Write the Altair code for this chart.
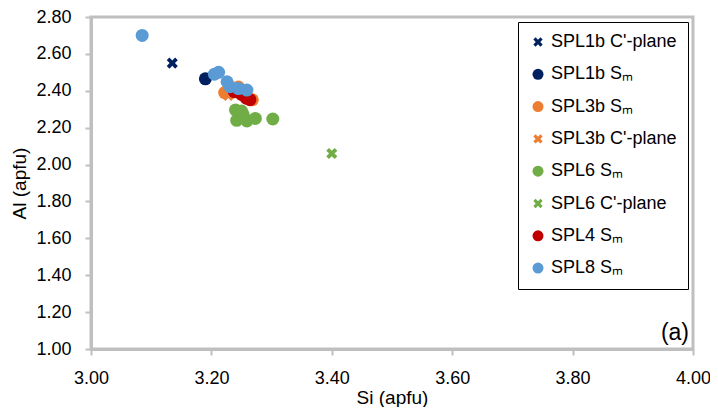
import altair as alt
import pandas as pd

series_names = ["SPL1b C'-plane", "SPL1b S\u2098", "SPL3b S\u2098", "SPL3b C'-plane",
                "SPL6 S\u2098", "SPL6 C'-plane", "SPL4 S\u2098", "SPL8 S\u2098"]
series_colors = ["#002060", "#002060", "#ED7D31", "#ED7D31",
                 "#70AD47", "#70AD47", "#C00000", "#5B9BD5"]

X_PATH = ("M-0.44,-0.85L0,-0.41L0.44,-0.85L0.85,-0.44L0.41,0L0.85,0.44"
          "L0.44,0.85L0,0.41L-0.44,0.85L-0.85,0.44L-0.41,0L-0.85,-0.44Z")
series_shapes = [X_PATH, "circle", "circle", X_PATH, "circle", X_PATH, "circle", "circle"]

# values per series (Si, Al in apfu)
spl1b_c_si = [3.135]
spl1b_c_al = [2.55]
spl1b_sm_si = [3.19]
spl1b_sm_al = [2.465]
spl3b_sm_si = [3.222, 3.245, 3.268, 3.258]
spl3b_sm_al = [2.39, 2.42, 2.351, 2.37]
spl3b_c_si = [3.228]
spl3b_c_al = [2.375]
spl6_sm_si = [3.24, 3.253, 3.242, 3.259, 3.273, 3.302, 3.25]
spl6_sm_al = [2.296, 2.27, 2.24, 2.236, 2.25, 2.247, 2.29]
spl6_c_si = [3.40]
spl6_c_al = [2.06]
spl4_sm_si = [3.238, 3.25, 3.258, 3.264]
spl4_sm_al = [2.395, 2.38, 2.36, 2.352]
spl8_sm_si = [3.085, 3.205, 3.212, 3.226, 3.231, 3.245, 3.259]
spl8_sm_al = [2.70, 2.49, 2.50, 2.449, 2.422, 2.412, 2.404]

series_si = [spl1b_c_si, spl1b_sm_si, spl3b_sm_si, spl3b_c_si,
             spl6_sm_si, spl6_c_si, spl4_sm_si, spl8_sm_si]
series_al = [spl1b_c_al, spl1b_sm_al, spl3b_sm_al, spl3b_c_al,
             spl6_sm_al, spl6_c_al, spl4_sm_al, spl8_sm_al]

x_ticks = [3.0, 3.2, 3.4, 3.6, 3.8, 4.0]
y_ticks = [1.0, 1.2, 1.4, 1.6, 1.8, 2.0, 2.2, 2.4, 2.6, 2.8]

rows = []
for name, xs, ys in zip(series_names, series_si, series_al):
    for xv, yv in zip(xs, ys):
        rows.append({"series": name, "si": xv, "al": yv})
df = pd.DataFrame(rows)

W, H = 602, 332
FONT = "Liberation Sans"

legend = alt.Legend(
    title=None, orient="none", legendX=427, legendY=5,
    strokeColor="black", padding=11, rowPadding=14.3,
    labelFontSize=18, labelFont=FONT, labelColor="black",
    symbolSize=121, symbolStrokeWidth=0, labelOffset=4,
)

points = alt.Chart(df).mark_point(filled=True, opacity=1, size=169).encode(
    x=alt.X("si:Q", title="Si (apfu)",
            scale=alt.Scale(domain=[3.0, 4.0], nice=False, zero=False),
            axis=alt.Axis(values=x_ticks, format=".2f", tickSize=6, labelPadding=14,
                          titlePadding=1, grid=False, labelFlush=False)),
    y=alt.Y("al:Q", title="Al (apfu)",
            scale=alt.Scale(domain=[1.0, 2.8], nice=False, zero=False),
            axis=alt.Axis(values=y_ticks, format=".2f", tickSize=6, labelPadding=14,
                          titlePadding=6, grid=False, labelFlush=False)),
    color=alt.Color("series:N", scale=alt.Scale(domain=series_names, range=series_colors),
                    legend=legend),
    shape=alt.Shape("series:N", scale=alt.Scale(domain=series_names, range=series_shapes),
                    legend=legend),
)

label_df = pd.DataFrame({"t": ["(a)"]})
panel = alt.Chart(label_df).mark_text(
    align="right", baseline="alphabetic", fontSize=23, font=FONT, color="black"
).encode(x=alt.value(W - 4), y=alt.value(H - 9), text="t:N")

chart = alt.layer(points, panel).properties(
    width=W, height=H,
    autosize=alt.AutoSizeParams(type="none"),
    padding={"left": 83, "top": 9, "right": 17, "bottom": 58},
).configure_view(
    stroke="#BFBFBF", strokeWidth=3
).configure_axis(
    domainColor="#BFBFBF", domainWidth=3, tickColor="#BFBFBF", tickWidth=2,
    labelFont=FONT, labelFontSize=18, labelColor="black",
    titleFont=FONT, titleFontSize=19, titleColor="black", titleFontWeight="normal",
)

chart.save("out.html", embed_options={"renderer": "svg", "actions": False})
